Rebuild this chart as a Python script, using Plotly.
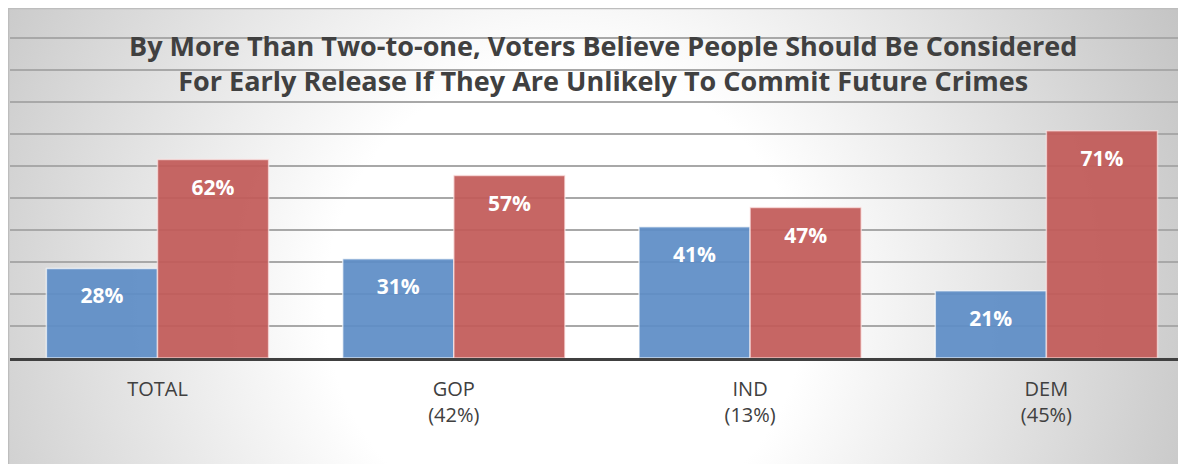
import base64
import plotly.graph_objects as go

categories = ["TOTAL", "GOP<br>(42%)", "IND<br>(13%)", "DEM<br>(45%)"]
series_names = ["Not considered", "Considered for early release"]
blue_values = [28, 31, 41, 21]
red_values = [62, 57, 47, 71]
title_lines = ["By More Than Two-to-one, Voters Believe People Should Be Considered",
               "For Early Release If They Are Unlikely To Commit Future Crimes"]

W, H = 1186, 464
BLUE = "rgba(94,141,198,0.93)"
RED = "rgba(194,90,88,0.93)"
FONT = "Open Sans"
half = 0.1875
xs = list(range(len(categories)))
xb = [i - half for i in xs]
xr = [i + half for i in xs]

svg = f"""<svg xmlns='http://www.w3.org/2000/svg' width='{W}' height='{H}' viewBox='0 0 {W} {H}' preserveAspectRatio='none'>
<defs><radialGradient id='g' gradientUnits='userSpaceOnUse' cx='552' cy='292' r='720'>
<stop offset='0' stop-color='#ffffff'/><stop offset='0.33' stop-color='#ffffff'/>
<stop offset='1' stop-color='#bebebe'/></radialGradient></defs>
<rect x='0' y='0' width='{W}' height='{H}' fill='url(#g)'/></svg>"""
src = "data:image/svg+xml;base64," + base64.b64encode(svg.encode()).decode()

fig = go.Figure()
fig.add_trace(go.Bar(x=xb, y=blue_values, width=2 * half, name=series_names[0],
                     marker=dict(color=BLUE, line=dict(color="rgba(255,255,255,0.65)", width=1.5))))
fig.add_trace(go.Bar(x=xr, y=red_values, width=2 * half, name=series_names[1],
                     marker=dict(color=RED, line=dict(color="rgba(255,235,235,0.65)", width=1.5))))
lab_off = 9.3
fig.add_trace(go.Scatter(x=xb + xr, y=[v - lab_off for v in blue_values + red_values],
                         text=[f"{v}%" for v in blue_values + red_values],
                         mode="text", textposition="middle center",
                         textfont=dict(family=FONT, size=21, color="white", weight="bold"),
                         hoverinfo="skip"))

ml, mt, mb = 2, 0, 114
pw = W - ml
ph = H - mt - mb
px_per_cat = 296.3
px_per_unit = 3.2
x_left = -147.5 / px_per_cat
x_right = x_left + pw / px_per_cat

fig.add_layout_image(dict(source=src, xref="paper", yref="paper",
                          x=-ml / pw, y=1.0,
                          sizex=W / pw + 0.01, sizey=H / ph + 0.01,
                          xanchor="left", yanchor="top", sizing="stretch", layer="below"))
fig.add_shape(type="rect", xref="paper", yref="paper",
              x0=-ml / pw + 0.0004, x1=1.02, y0=-0.5, y1=0.9985,
              line=dict(color="#bdbdbd", width=1.5), layer="below")

fig.add_annotation(text="<br>".join(title_lines), xref="paper", yref="paper",
                   x=(594.5 - ml) / pw, y=(350 - 55) / ph, xanchor="center", yanchor="middle",
                   showarrow=False,
                   font=dict(family=FONT, size=27, color="#404040", weight="bold"))

fig.update_layout(
    width=W, height=H, margin=dict(l=ml, r=0, t=mt, b=mb),
    paper_bgcolor="white", plot_bgcolor="rgba(0,0,0,0)",
    showlegend=False, barmode="overlay",
    xaxis=dict(range=[x_left, x_right], tickvals=xs, ticktext=categories,
               showgrid=False, zeroline=False, showline=True, linecolor="#404040",
               linewidth=3, ticks="", ticklabelstandoff=11,
               tickfont=dict(family=FONT, size=20, color="#404040")),
    yaxis=dict(range=[0, ph / px_per_unit], dtick=10, showgrid=True, gridcolor="#a8a8a8",
               gridwidth=1.5, zeroline=False, showticklabels=False, ticks=""),
)
fig.write_html("out.html")
